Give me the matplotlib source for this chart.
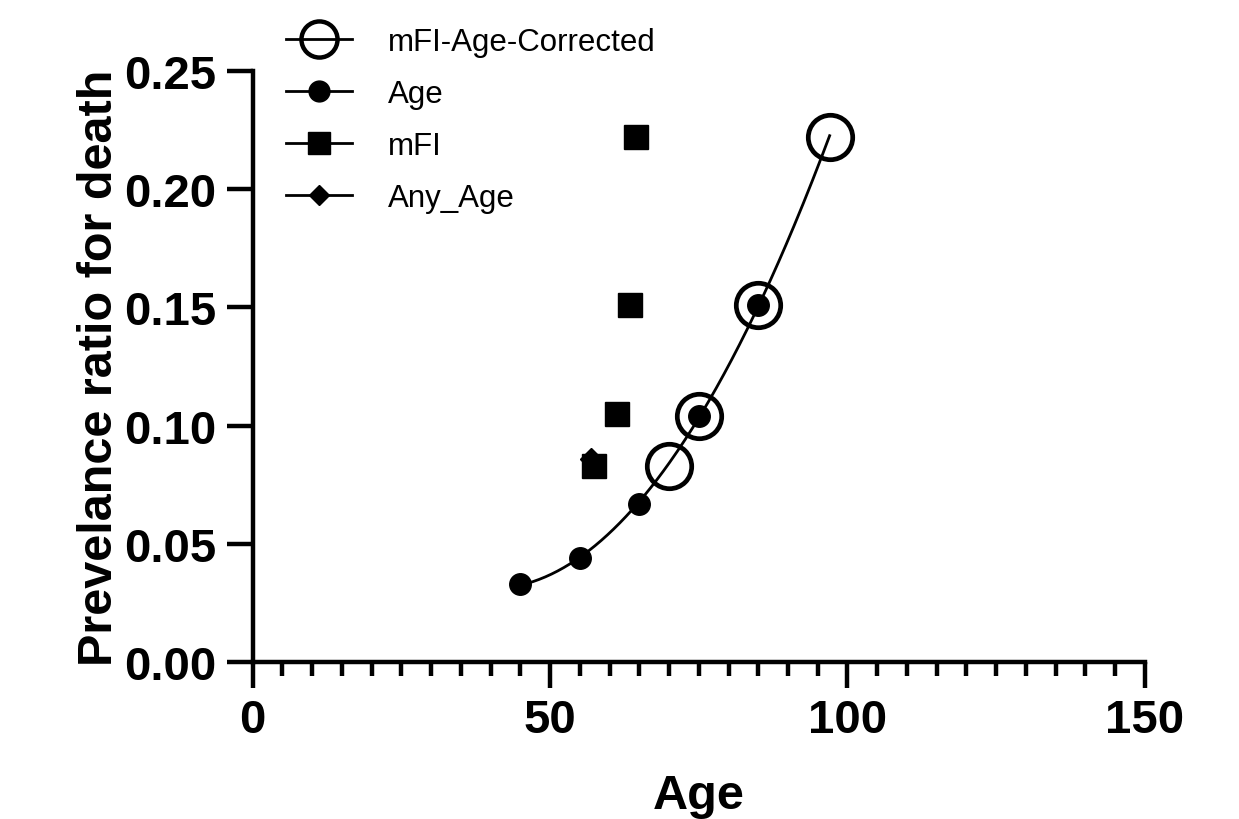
import matplotlib
matplotlib.use("Agg")
import matplotlib.pyplot as plt
from matplotlib.lines import Line2D
import numpy as np

plt.rcParams['font.family'] = ['Liberation Sans', 'DejaVu Sans']

# data
age_x = [45, 55, 65, 75, 85]
age_y = [0.033, 0.044, 0.067, 0.104, 0.151]

corr_x = [70, 75, 85, 97]
corr_y = [0.083, 0.104, 0.151, 0.222]

mfi_x = [57.4, 61.3, 63.4, 64.5]
mfi_y = [0.083, 0.105, 0.151, 0.222]

any_x = [56.8]
any_y = [0.086]

# smooth fitted curve through age + corrected points
fit_x = np.array(age_x + corr_x)
fit_y = np.array(age_y + corr_y)
coef = np.polyfit(fit_x, fit_y, 2)
xs = np.linspace(min(fit_x), max(fit_x), 200)
ys = np.polyval(coef, xs)

fig = plt.figure(figsize=(12.39, 8.2), dpi=100)
ax = fig.add_axes([0.204, 0.1915, 0.72, 0.7205])

ax.plot(xs, ys, color='black', lw=2, zorder=2)

ax.plot(corr_x, corr_y, 'o', ms=32, mfc='none', mec='black', mew=3.4,
        zorder=3, label='mFI-Age-Corrected')
ax.plot(age_x, age_y, 'o', ms=15.5, color='black', zorder=4, label='Age')
ax.plot(any_x, any_y, 'D', ms=11, color='black', zorder=4, label='Any_Age')
ax.plot(mfi_x, mfi_y, 's', ms=17, color='black', zorder=5, label='mFI')

ax.set_xlim(0, 150)
ax.set_ylim(0, 0.25)
ax.set_xticks([0, 50, 100, 150])
ax.set_xticks(np.arange(0, 151, 5), minor=True)
ax.set_yticks([0, 0.05, 0.10, 0.15, 0.20, 0.25])
ax.set_yticklabels(['0.00', '0.05', '0.10', '0.15', '0.20', '0.25'])

for s in ['top', 'right']:
    ax.spines[s].set_visible(False)
for s in ['left', 'bottom']:
    ax.spines[s].set_linewidth(3.2)
    ax.spines[s].set_clip_on(False)

ax.tick_params(axis='both', which='major', length=19, width=3.2, labelsize=34,
               pad=7, direction='out')
ax.tick_params(axis='x', which='minor', length=10, width=3.2, direction='out')
for lab in ax.get_xticklabels() + ax.get_yticklabels():
    lab.set_fontweight('bold')

ax.set_xlabel('Age', fontsize=35, fontweight='bold', labelpad=22)
ax.set_ylabel('Prevelance ratio for death', fontsize=35, fontweight='bold', labelpad=2)

# legend handles: markers with a line through them
handles = [
    Line2D([], [], color='black', lw=2, marker='o', ms=26, mfc='none', mec='black', mew=3.2),
    Line2D([], [], color='black', lw=2, marker='o', ms=15),
    Line2D([], [], color='black', lw=2, marker='s', ms=16),
    Line2D([], [], color='black', lw=2, marker='D', ms=10.5),
]
labels = ['mFI-Age-Corrected', 'Age', 'mFI', 'Any_Age']
fig.legend(handles, labels, loc='upper left', bbox_to_anchor=(0.221, 0.981),
           frameon=False, fontsize=22.5, handlelength=2.1, handletextpad=1.15,
           labelspacing=0.7, borderaxespad=0)

fig.savefig('out.png', dpi=100)
